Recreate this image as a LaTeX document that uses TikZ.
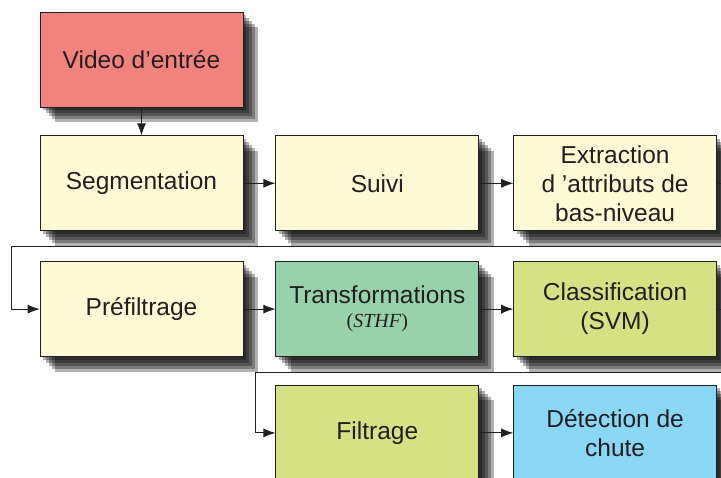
\documentclass[tikz,border=0pt]{standalone}
\usepackage{fontspec}
\setmainfont{Liberation Sans}
\newfontfamily\timesfont{Liberation Serif}
\usepackage{tikz}
\usetikzlibrary{arrows.meta,calc,positioning,shadows}
\definecolor{salmon}{RGB}{242,130,125}
\definecolor{cream}{RGB}{255,250,214}
\definecolor{seagreen}{RGB}{152,210,172}
\definecolor{olive}{RGB}{212,226,132}
\definecolor{skyblue}{RGB}{138,214,245}
\definecolor{ink}{RGB}{35,31,32}

\begin{document}
\begin{tikzpicture}
    \tikzset{soft/.style={drop shadow={shadow xshift=#1,shadow yshift=-#1,
    fill=black,opacity=0.3}}}
    \tikzset{block/.style={rectangle,draw=ink,line width=0.8pt,text=ink,
    minimum width=203pt,minimum height=95pt,align=center,
    font=\fontsize{24.5}{29}\selectfont,
    soft=15pt,soft=12pt,soft=9pt,soft=6pt,soft=3pt}}
    \tikzset{link/.style={draw=ink,line width=0.8pt,
    -{Latex[length=12pt,width=9pt]}}}

    \useasboundingbox (0,0) rectangle (721pt,-478pt);

    \node[block,fill=salmon] (VID) at (141.5pt,-59.5pt) {Video d’entrée};

    \node[block,fill=cream] (SEG) [below=28pt of VID] {Segmentation};
    \node[block,fill=cream] (SUI) [right=32pt of SEG] {Suivi};
    \node[block,fill=cream] (EXT) [right=34pt of SUI] {Extraction\\d ’attributs de\\bas-niveau};

    \node[block,fill=cream] (PRE) [below=30pt of SEG] {Préfiltrage};
    \node[block,fill=seagreen] (TRA) [right=32pt of PRE]
      {Transformations\\[-5pt]{\timesfont\fontsize{20}{22}\selectfont(\textit{STHF})}};
    \node[block,fill=olive] (CLA) [right=34pt of TRA] {Classification\\(SVM)};

    \node[block,fill=olive] (FIL) [below=28pt of TRA] {Filtrage};
    \node[block,fill=skyblue] (DET) [right=34pt of FIL] {Détection de\\chute};

    \path[link] (VID) -- (SEG);
    \path[link] (SEG) -- (SUI);
    \path[link] (SUI) -- (EXT);
    \path[link] (EXT.east) -- ++(12pt,0)
      |- ([xshift=-28pt,yshift=15pt]PRE.north west) |- (PRE.west);
    \path[link] (PRE) -- (TRA);
    \path[link] (TRA) -- (CLA);
    \path[link] (CLA.east) -- ++(12pt,0)
      |- ([xshift=-20pt,yshift=13pt]FIL.north west) |- (FIL.west);
    \path[link] (FIL) -- (DET);
\end{tikzpicture}
\end{document}
